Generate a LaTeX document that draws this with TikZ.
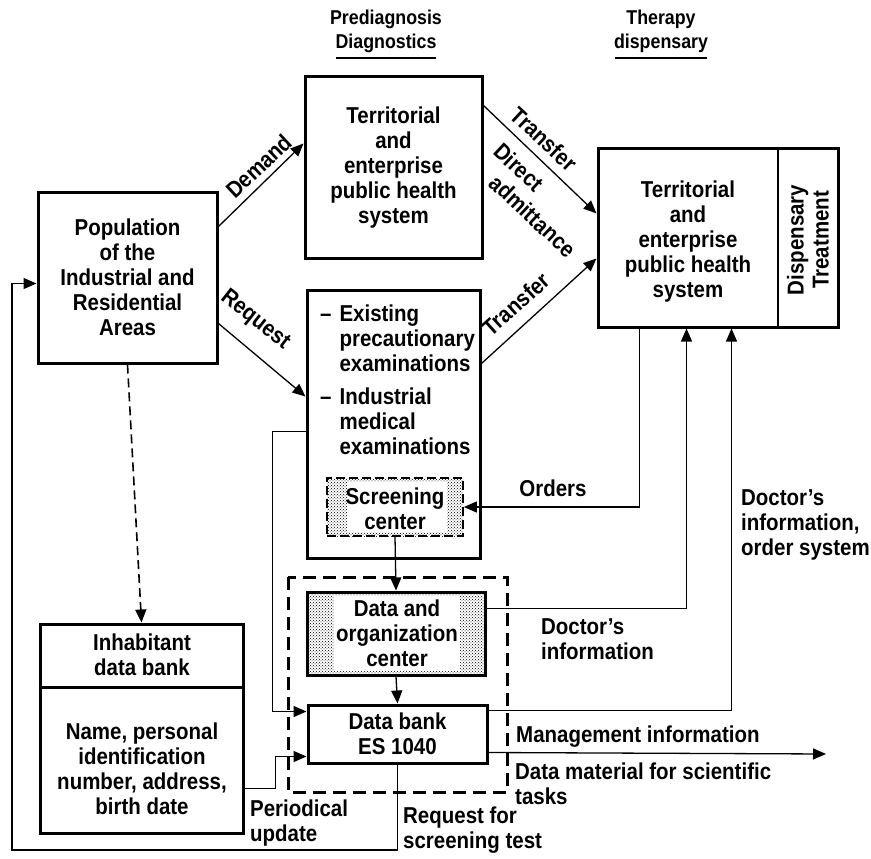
\documentclass[tikz,border=0pt]{standalone}
\usepackage{fontspec}
\setmainfont{Liberation Sans}[FakeStretch=0.89]
\usetikzlibrary{arrows.meta,patterns}
\begin{document}
\begin{tikzpicture}[x=1pt,y=-1pt,
  txt/.style={font=\fontsize{23}{25}\selectfont\bfseries, align=center, inner sep=0pt},
  hdr/.style={font=\fontsize{20}{24}\selectfont\bfseries, align=center, inner sep=0pt},
  box/.style={draw, line width=3pt, inner sep=0pt, font=\fontsize{23}{25}\selectfont\bfseries, align=center},
  conn/.style={line width=1.3pt},
  arr/.style={line width=1.3pt, -{Triangle[length=13pt,width=11pt]}},
  lbl/.style={txt, align=left}
]
\useasboundingbox (0,0) rectangle (871,859);
\fill[white] (0,0) rectangle (871,859);

% headers
\node[hdr] (h1) at (386,31) {Prediagnosis\\Diagnostics};
\draw[line width=1.4pt] (336,58) -- (436,58);
\node[hdr] (h2) at (661,31) {Therapy\\dispensary};
\draw[line width=1.4pt] (615,58) -- (707,58);

% boxes
\node[box, minimum width=177pt, minimum height=181pt] (A) at (393.5,167.5)
  {Territorial\\and\\enterprise\\public health\\system};
\node[box, minimum width=240pt, minimum height=179pt] (B) at (718,237.5) {};
\draw[line width=2.4pt] (B.north west -| 778,0) coordinate (bd1) -- (B.south west -| 778,0) coordinate (bd2);
\node[txt] (Bt) at (688,242) {Territorial\\and\\enterprise\\public health\\system};
\node[txt, rotate=90] (Bd) at (808,240) {Dispensary\\Treatment};

\node[box, minimum width=179pt, minimum height=171pt] (C) at (127.5,277.5)
  {Population\\of the\\Industrial and\\Residential\\Areas};

\node[box, minimum width=173pt, minimum height=268pt] (D) at (393.5,424) {};
\node[txt, anchor=north west, align=left] (Dt) at (320,304)
  {\begin{tabular}{@{}l@{\hspace{8pt}}l@{}}
   -- & Existing\\
      & precautionary\\
      & examinations\\[8pt]
   -- & Industrial\\
      & medical\\
      & examinations
   \end{tabular}};

\node[draw, line width=1.7pt, dash pattern=on 9pt off 4pt, pattern=crosshatch dots,
  minimum width=136pt, minimum height=58pt, inner sep=0pt,
  path picture={\fill[white] ([xshift=20pt,yshift=4pt]path picture bounding box.south west) rectangle ([xshift=-16pt,yshift=-4pt]path picture bounding box.north east);}]
  (S) at (395,507) {};
\node[txt] (St) at (395,509) {Screening\\center};

% dashed group
\draw[line width=3pt, dash pattern=on 13pt off 7pt] (288,577) rectangle (507,792);

\node[draw, line width=3pt, pattern=crosshatch dots, minimum width=178pt, minimum height=83pt, inner sep=0pt,
  path picture={\fill[white] ([xshift=27pt,yshift=4pt]path picture bounding box.south west) rectangle ([xshift=-25pt,yshift=-4pt]path picture bounding box.north east);}]
  (O) at (396,633.5) {};
\node[txt] (Ot) at (397,633) {Data and\\organization\\center};

\node[box, fill=white, minimum width=179pt, minimum height=58pt] (DB) at (397.5,734) {Data bank\\ES 1040};

\node[box, minimum width=203pt, minimum height=209pt] (E) at (141.5,728.5) {};
\draw[line width=3pt] (E.north west |- 0,687) -- (E.north east |- 0,687);
\node[txt] (Et1) at (142,655) {Inhabitant\\data bank};
\node[txt] (Et2) at (142,769) {Name, personal\\identification\\number, address,\\birth date};

% connectors
\draw[arr] ([yshift=-36pt]C.north east) -- ([yshift=-68pt]A.north west);
\node[txt, rotate=43] (lDemand) at (259,166) {Demand};
\draw[arr] ([yshift=-133pt]C.north east) -- ([yshift=-108pt]D.north west);
\node[txt, rotate=-38] (lRequest) at (255,320) {Request};

\draw[arr] ([yshift=-30pt]A.north east) -- ([yshift=-67pt]B.north west);
\node[txt, rotate=-43] (lT1) at (544,139) {Transfer};
\node[txt, rotate=-43] (lDir) at (519,167) {Direct};
\node[txt, rotate=-43] (lAdm) at (533,216) {admittance};

\draw[arr] ([yshift=-75pt]D.north east) -- ([yshift=-112pt]B.north west);
\node[txt, rotate=42] (lT2) at (516,304) {Transfer};

\draw[arr] ([xshift=43pt]B.south west) |- (S.east);
\node[txt] (lOrders) at (553,488) {Orders};

\draw[arr] ([yshift=-18pt]O.north east) -| ([xshift=90pt]B.south west);
\node[lbl, anchor=west] (lDoc) at (541,639) {Doctor’s\\information};

\draw[arr] ([yshift=-7pt]DB.north east) -| ([xshift=135pt]B.south west);
\node[lbl, anchor=west] (lDoc2) at (741,525) {Doctor’s\\information,\\order system};

\coordinate (mgmt) at (826,754);
\draw[arr] ([yshift=-49pt]DB.north east) -- (mgmt);
\node[lbl, anchor=west] (lMgmt) at (516,737) {Management information};
\node[lbl, anchor=west] (lData) at (515,784) {Data material for scientific\\tasks};

\draw[arr] (S.south) -- (O.north);
\draw[arr] (O.south) -- (DB.north);

\draw[arr] ([yshift=-143pt]D.north west) -- ++(-33,0) |- ([yshift=-8pt]DB.north west);
\draw[arr] ([yshift=-166pt]E.north east) -- ++(31,0) |- ([yshift=-53pt]DB.north west);
\node[lbl, anchor=west] (lPer) at (250,823) {Periodical\\update};

\draw[line width=1.6pt, dash pattern=on 9pt off 5pt, -{Triangle[length=13pt,width=11pt]}] (C.south) -- (E.north);

\coordinate (fbl) at (12,850);
\draw[arr] (DB.south) |- (fbl) |- ([yshift=-93pt]C.north west);
\node[lbl, anchor=west] (lReq) at (403,830) {Request for\\screening test};
\end{tikzpicture}
\end{document}
